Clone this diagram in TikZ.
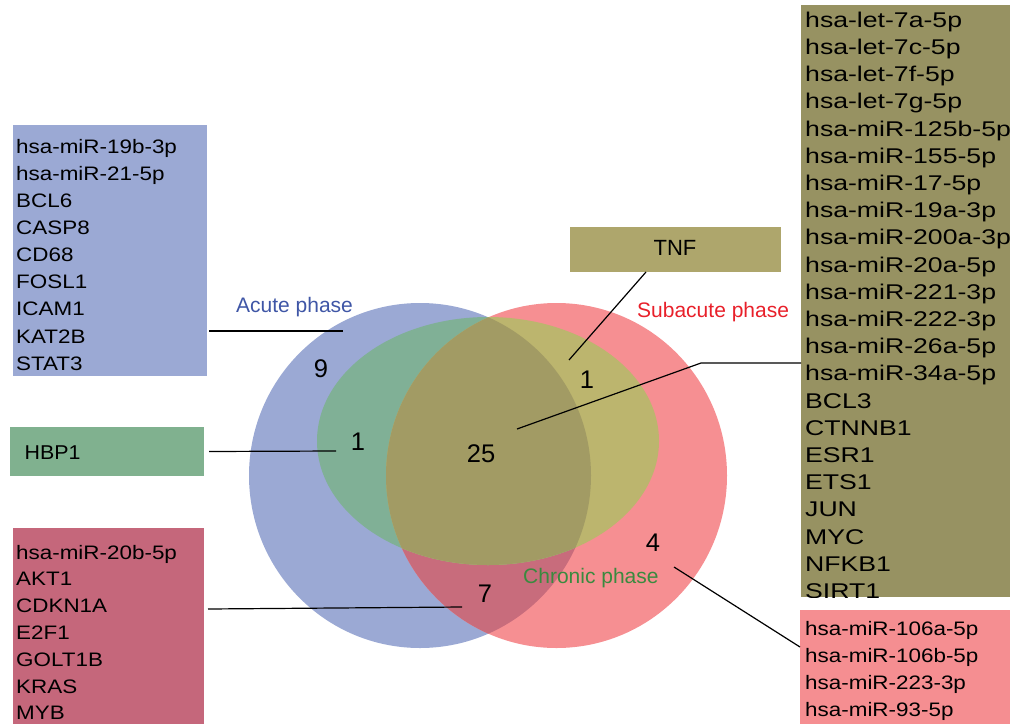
\documentclass[tikz,border=0pt]{standalone}
\usepackage{fontspec}
\setmainfont{Liberation Sans}
\newfontfamily\listfont{Liberation Sans}[FakeStretch=1.15]
\newfontfamily\olivefont{Liberation Sans}[FakeStretch=1.25]
\newfontfamily\hbpfont{Liberation Sans}[FakeStretch=1.07]
\definecolor{cBlue}{HTML}{9BA9D4}
\definecolor{cRed}{HTML}{F68F92}
\definecolor{cBG}{HTML}{80B096}
\definecolor{cRG}{HTML}{BCB56E}
\definecolor{cBR}{HTML}{C86C7C}
\definecolor{cAll}{HTML}{A29B64}
\definecolor{bxBlue}{HTML}{9BA9D4}
\definecolor{bxGreen}{HTML}{80B18F}
\definecolor{bxMauve}{HTML}{C5677B}
\definecolor{bxTNF}{HTML}{AEA66C}
\definecolor{bxOlive}{HTML}{979262}
\definecolor{bxPink}{HTML}{F58E91}
\definecolor{tAcute}{HTML}{3F56A6}
\definecolor{tSub}{HTML}{E8202A}
\definecolor{tChr}{HTML}{3A8A3F}
\tikzset{
  boxfill/.style={anchor=north west, inner sep=0pt, outer sep=0pt, draw=none},
  listitem/.style={anchor=base west, inner sep=0pt, font=\listfont\fontsize{19.5}{27}\selectfont},
  oliveitem/.style={anchor=base west, inner sep=0pt, font=\olivefont\fontsize{21.3}{27}\selectfont},
  conn/.style={draw=black, line width=1.2pt},
  num/.style={anchor=base, inner sep=0pt, font=\fontsize{25.5}{30}\selectfont},
  phaselabel/.style={anchor=base west, inner sep=0pt, font=\fontsize{21}{25}\selectfont},
}
\def\blueE{(420,475.5) ellipse [x radius=171pt, y radius=172.5pt]}
\def\redE{(556.5,475.5) ellipse [x radius=170.5pt, y radius=172.5pt]}
\def\greenE{(488,441) ellipse [x radius=171pt, y radius=124pt]}
\begin{document}
\begin{tikzpicture}[x=1pt,y=-1pt]
\useasboundingbox (0,0) rectangle (1030,723);
% Venn regions
\fill[cBlue] \blueE;
\fill[cRed] \redE;
\begin{scope}
  \clip \blueE;
  \fill[cBR] \redE;
  \fill[cBG] \greenE;
\end{scope}
\begin{scope}
  \clip \redE;
  \fill[cRG] \greenE;
\end{scope}
\begin{scope}
  \clip \blueE;
  \clip \redE;
  \fill[cAll] \greenE;
\end{scope}
% phase labels
\node[phaselabel, text=tAcute] (lblAcute) at (236,312.7) {Acute phase};
\node[phaselabel, text=tSub] (lblSub) at (637,317) {Subacute phase};
\node[phaselabel, text=tChr] (lblChr) at (523,583) {Chronic phase};
% numbers
\node[num] (n9) at (321,377.3) {9};
\node[num] (n1a) at (358,450.7) {1};
\node[num] (n25) at (481,462) {25};
\node[num] (n1b) at (587,388.3) {1};
\node[num] (n4) at (653,551.7) {4};
\node[num] (n7) at (485,602.7) {7};
% boxes
\node[boxfill, fill=bxBlue, minimum width=194pt, minimum height=251pt] (acuteBox) at (13,125) {};
\node[boxfill, fill=bxGreen, minimum width=194pt, minimum height=49pt] (hbpBox) at (10,427) {};
\node[boxfill, fill=bxMauve, minimum width=191pt, minimum height=200pt] (mauveBox) at (13,528) {};
\node[boxfill, fill=bxTNF, minimum width=211pt, minimum height=45pt] (tnfBox) at (570,227) {};
\node[boxfill, fill=bxOlive, minimum width=209pt, minimum height=592pt] (oliveBox) at (801,5) {};
\node[boxfill, fill=bxPink, minimum width=210pt, minimum height=120pt] (pinkBox) at (800,610) {};
% box texts
\foreach \t [count=\i from 0] in {hsa-miR-19b-3p,hsa-miR-21-5p,BCL6,CASP8,CD68,FOSL1,ICAM1,KAT2B,STAT3}
  \node[listitem, name=acuteL\i] at (16,{153.3+27.1*\i}) {\t};
\node[anchor=base west, inner sep=0pt, font=\hbpfont\fontsize{20}{24}\selectfont] (hbpText) at (24.5,459) {HBP1};
\foreach \t [count=\i from 0] in {hsa-miR-20b-5p,AKT1,CDKN1A,E2F1,GOLT1B,KRAS,MYB}
  \node[listitem, name=mauveL\i] at (16,{559+26.8*\i}) {\t};
\node[anchor=base, inner sep=0pt, font=\fontsize{22}{26}\selectfont] (tnfText) at (675,255) {TNF};
\begin{scope}
  \clip (780,0) rectangle (1030,597);
  \foreach \t [count=\i from 0] in {hsa-let-7a-5p,hsa-let-7c-5p,hsa-let-7f-5p,hsa-let-7g-5p,hsa-miR-125b-5p,hsa-miR-155-5p,hsa-miR-17-5p,hsa-miR-19a-3p,hsa-miR-200a-3p,hsa-miR-20a-5p,hsa-miR-221-3p,hsa-miR-222-3p,hsa-miR-26a-5p,hsa-miR-34a-5p,BCL3,CTNNB1,ESR1,ETS1,JUN,MYC,NFKB1,SIRT1}
    \node[oliveitem, name=oliveL\i] at (805,{27.3+27.2*\i}) {\t};
\end{scope}
\foreach \t [count=\i from 0] in {hsa-miR-106a-5p,hsa-miR-106b-5p,hsa-miR-223-3p,hsa-miR-93-5p}
  \node[listitem, name=pinkL\i] at (805,{635+27.2*\i}) {\t};
% connector ends
\coordinate (acuteEnd) at (343,331);
\coordinate (hbpEnd) at (336,451);
\coordinate (mauveEnd) at (462,607);
\coordinate (tnfEnd) at (569,360);
\coordinate (oliveBend) at (701,363);
\coordinate (oliveEnd) at (517,429);
\coordinate (pinkEnd) at (674,567);
% connectors
\draw[conn] ([xshift=2pt]acuteBox.east |- acuteEnd) -- (acuteEnd);
\draw[conn] ([xshift=5pt]hbpBox.east) -- (hbpEnd);
\draw[conn] ([xshift=4pt]mauveBox.east |- 0,609) -- (mauveEnd);
\draw[conn] (tnfBox.south -| 646,0) -- (tnfEnd);
\draw[conn] (oliveBox.west |- oliveBend) -- (oliveBend) -- (oliveEnd);
\draw[conn] (pinkBox.west |- 0,647) -- (pinkEnd);
\end{tikzpicture}
\end{document}
